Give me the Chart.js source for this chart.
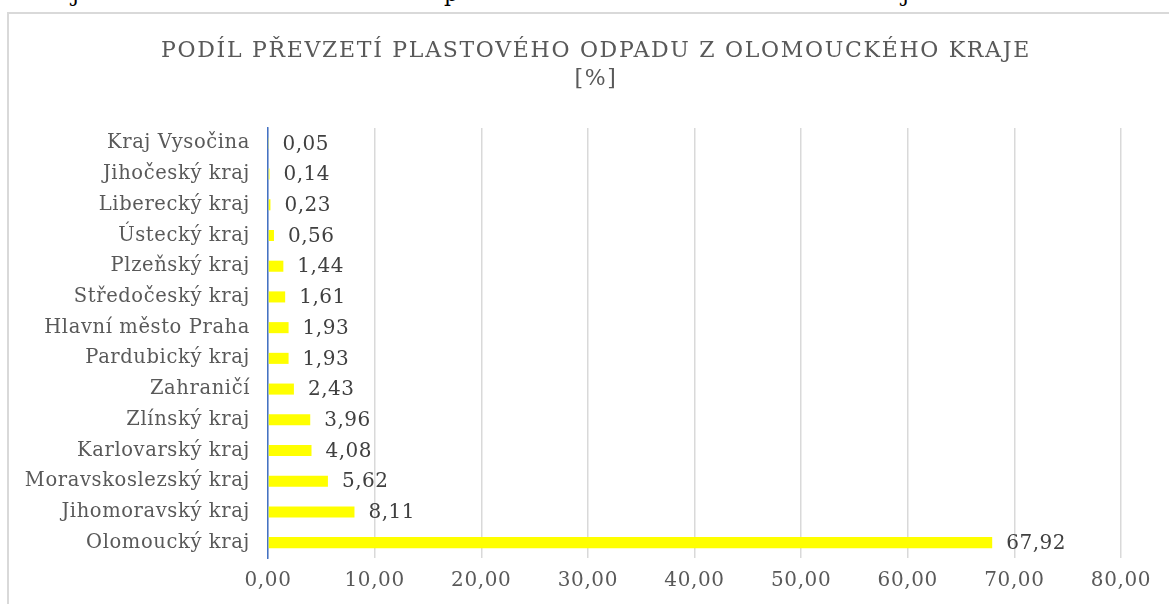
<!DOCTYPE html>
<html>
<head>
<meta charset="utf-8">
<script src="https://cdn.jsdelivr.net/npm/chart.js@4.4.1/dist/chart.umd.min.js"></script>
<style>
  html, body { margin: 0; padding: 0; background: #fff; overflow: hidden; }
  #frame { position: absolute; left: 7px; top: 12px; width: 1200px; height: 700px; border: 2px solid #d9d9d9; box-sizing: border-box; }
  #wrap { position: absolute; left: 0; top: 0; width: 1169px; height: 604px; }
  .clip { position: absolute; font-family: "DejaVu Serif", serif; font-size: 22px; color: #000; line-height: 22px; }
</style>
</head>
<body>
<div class="clip" style="left:72px; top:-17px;">j</div>
<div class="clip" style="left:444px; top:-17px;">p</div>
<div class="clip" style="left:902px; top:-17px;">j</div>
<div id="frame"></div>
<div id="wrap"><canvas id="c" width="1169" height="604"></canvas></div>
<script>
const categories = [
  "Kraj Vysočina", "Jihočeský kraj", "Liberecký kraj", "Ústecký kraj",
  "Plzeňský kraj", "Středočeský kraj", "Hlavní město Praha", "Pardubický kraj",
  "Zahraničí", "Zlínský kraj", "Karlovarský kraj", "Moravskoslezský kraj",
  "Jihomoravský kraj", "Olomoucký kraj"
];
const shareValues = [0.05, 0.14, 0.23, 0.56, 1.44, 1.61, 1.93, 1.93, 2.43, 3.96, 4.08, 5.62, 8.11, 67.92];
const titleLines = ["PODÍL PŘEVZETÍ PLASTOVÉHO ODPADU Z OLOMOUCKÉHO KRAJE", "[%]"];
const xMin = 0, xMax = 80, xStep = 10;

const fmt = v => v.toFixed(2).replace('.', ',');
const FONT = "'DejaVu Serif', serif";

const spacing = {
  id: 'spacing',
  beforeDraw(chart) { chart.ctx.letterSpacing = '0.6px'; }
};

const titleDraw = {
  id: 'titleDraw',
  afterDraw(chart) {
    const ctx = chart.ctx;
    ctx.save();
    ctx.letterSpacing = '1.7px';
    ctx.font = "22px " + FONT;
    ctx.fillStyle = "#595959";
    ctx.textAlign = "center";
    ctx.textBaseline = "middle";
    ctx.fillText(titleLines[0], 596, 51);
    ctx.fillText(titleLines[1], 596, 79);
    ctx.restore();
  }
};

const valueLabels = {
  id: 'valueLabels',
  afterDatasetsDraw(chart) {
    const ctx = chart.ctx;
    const meta = chart.getDatasetMeta(0);
    ctx.save();
    ctx.letterSpacing = '0.5px';
    ctx.font = "20px " + FONT;
    ctx.fillStyle = "#404040";
    ctx.textAlign = "left";
    ctx.textBaseline = "middle";
    meta.data.forEach((bar, i) => {
      ctx.fillText(fmt(shareValues[i]), bar.x + 14, bar.y + 1);
    });
    ctx.restore();
  }
};

new Chart(document.getElementById('c'), {
  type: 'bar',
  data: {
    labels: categories,
    datasets: [{
      data: shareValues,
      backgroundColor: '#FFFF00',
      borderWidth: 0,
      barPercentage: 0.36,
      categoryPercentage: 1.0
    }]
  },
  options: {
    indexAxis: 'y',
    responsive: false,
    animation: false,
    devicePixelRatio: 1,
    layout: { padding: { left: 0, right: 48, top: 128, bottom: 0 } },
    plugins: {
      legend: { display: false },
      tooltip: { enabled: false },
      title: { display: false }
    },
    scales: {
      x: {
        min: xMin, max: xMax,
        ticks: {
          stepSize: xStep,
          color: '#595959',
          font: { family: FONT, size: 20 },
          padding: 11,
          callback: v => fmt(v)
        },
        grid: { color: '#d9d9d9', lineWidth: 1.5, drawTicks: false },
        border: { display: false },
        afterFit(scale) { scale.height = 46; }
      },
      y: {
        ticks: {
          color: '#595959',
          font: { family: FONT, size: 19.5 },
          padding: 18,
          autoSkip: false
        },
        grid: { color: 'rgba(0,0,0,0)', drawTicks: false },
        border: { display: true, color: '#4472C4', width: 1.5 },
        afterFit(scale) { scale.width = 268; }
      }
    }
  },
  plugins: [spacing, valueLabels, titleDraw]
});
</script>
</body>
</html>
